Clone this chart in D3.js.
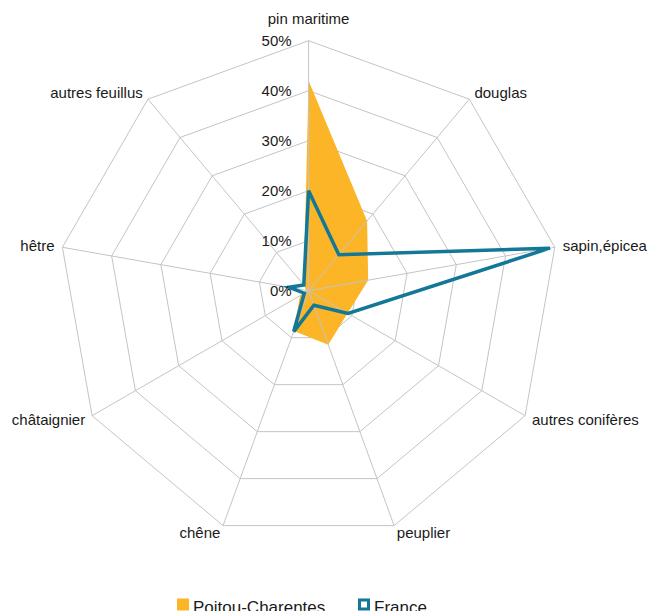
<!DOCTYPE html>
<html>
<head>
<meta charset="utf-8">
<script src="https://cdn.jsdelivr.net/npm/d3@7"></script>
<style>
  body { margin: 0; background: #fff; }
  text { font-family: "Liberation Sans", Arial, sans-serif; fill: #1a1a1a; }
</style>
</head>
<body>
<div id="chart"></div>
<script>
// categories and values (%)
let categories = ["pin maritime", "douglas", "sapin,épicea", "autres conifères", "peuplier",
                  "chêne", "châtaignier", "hêtre", "autres feuillus"];
let poitouValues = [42, 18.2, 12.1, 9, 11.5, 8.6, 2, 0.5, 1.5];
let franceValues = [20, 9.4, 49, 9.1, 3.1, 8.7, 1, 4, 1.5];
let tickValues = [0, 10, 20, 30, 40, 50];
let seriesNames = ["Poitou-Charentes", "France"];

let svgWidth = 652;
let svgHeight = 611;
let cx = 308.6, cy = 290.7, radius = 250;

let svg = d3.select("#chart")
    .append("svg")
    .attr("width", svgWidth)
    .attr("height", svgHeight);

let g = svg.append("g")
    .attr("transform", `translate(${cx}, ${cy})`);

let rScale = d3.scaleLinear().domain([0, 50]).range([0, radius]);
let angle = d3.scaleLinear().domain([0, categories.length]).range([0, 2 * Math.PI]);

function pt(i, v) {
    let a = angle(i);
    return [rScale(v) * Math.sin(a), -rScale(v) * Math.cos(a)];
}

// grid rings
let ringLine = d3.line().curve(d3.curveLinearClosed);
tickValues.slice(1).forEach(function(t) {
    g.append("path")
        .attr("d", ringLine(categories.map((c, i) => pt(i, t))))
        .attr("fill", "none")
        .attr("stroke", "#c4c4c4")
        .attr("stroke-width", 1);
});

// Poitou-Charentes area
g.append("path")
    .attr("d", ringLine(poitouValues.map((v, i) => pt(i, v))))
    .attr("fill", "#fbb526")
    .attr("stroke", "none");

// spokes (drawn over the area)
categories.forEach(function(c, i) {
    let p = pt(i, 50);
    g.append("line")
        .attr("x1", 0).attr("y1", 0)
        .attr("x2", p[0]).attr("y2", p[1])
        .attr("stroke", "#c4c4c4")
        .attr("stroke-width", 1);
});

// France line
g.append("path")
    .attr("d", ringLine(franceValues.map((v, i) => pt(i, v))))
    .attr("fill", "none")
    .attr("stroke", "#137797")
    .attr("stroke-width", 3.5)
    .attr("stroke-linejoin", "miter");

// tick labels
tickValues.forEach(function(t) {
    g.append("text")
        .attr("x", -17)
        .attr("y", -rScale(t))
        .attr("dy", "0.35em")
        .attr("text-anchor", "end")
        .attr("font-size", "15px")
        .text(t + "%");
});

// category labels
categories.forEach(function(c, i) {
    let a = angle(i);
    let s = Math.sin(a), k = -Math.cos(a);
    let p = pt(i, 50);
    let lbl = g.append("text")
        .attr("font-size", "15px")
        .attr("dy", "0.35em")
        .text(c);
    if (i === 0) {
        lbl.attr("x", p[0]).attr("y", p[1] - 22).attr("text-anchor", "middle");
    } else {
        lbl.attr("x", p[0] + s * 8)
            .attr("y", p[1] + k * 8)
            .attr("text-anchor", s > 0 ? "start" : "end");
    }
});

// legend
let legend = svg.append("g");
legend.append("rect")
    .attr("x", 177).attr("y", 598.5)
    .attr("width", 12).attr("height", 12)
    .attr("fill", "#fbb526");
legend.append("text")
    .attr("x", 193).attr("y", 612.5)
    .attr("font-size", "17px")
    .text(seriesNames[0]);
legend.append("rect")
    .attr("x", 359.5).attr("y", 600)
    .attr("width", 9).attr("height", 9)
    .attr("fill", "#fff")
    .attr("stroke", "#137797")
    .attr("stroke-width", 3);
legend.append("text")
    .attr("x", 374).attr("y", 612.5)
    .attr("font-size", "17px")
    .text(seriesNames[1]);
</script>
</body>
</html>
